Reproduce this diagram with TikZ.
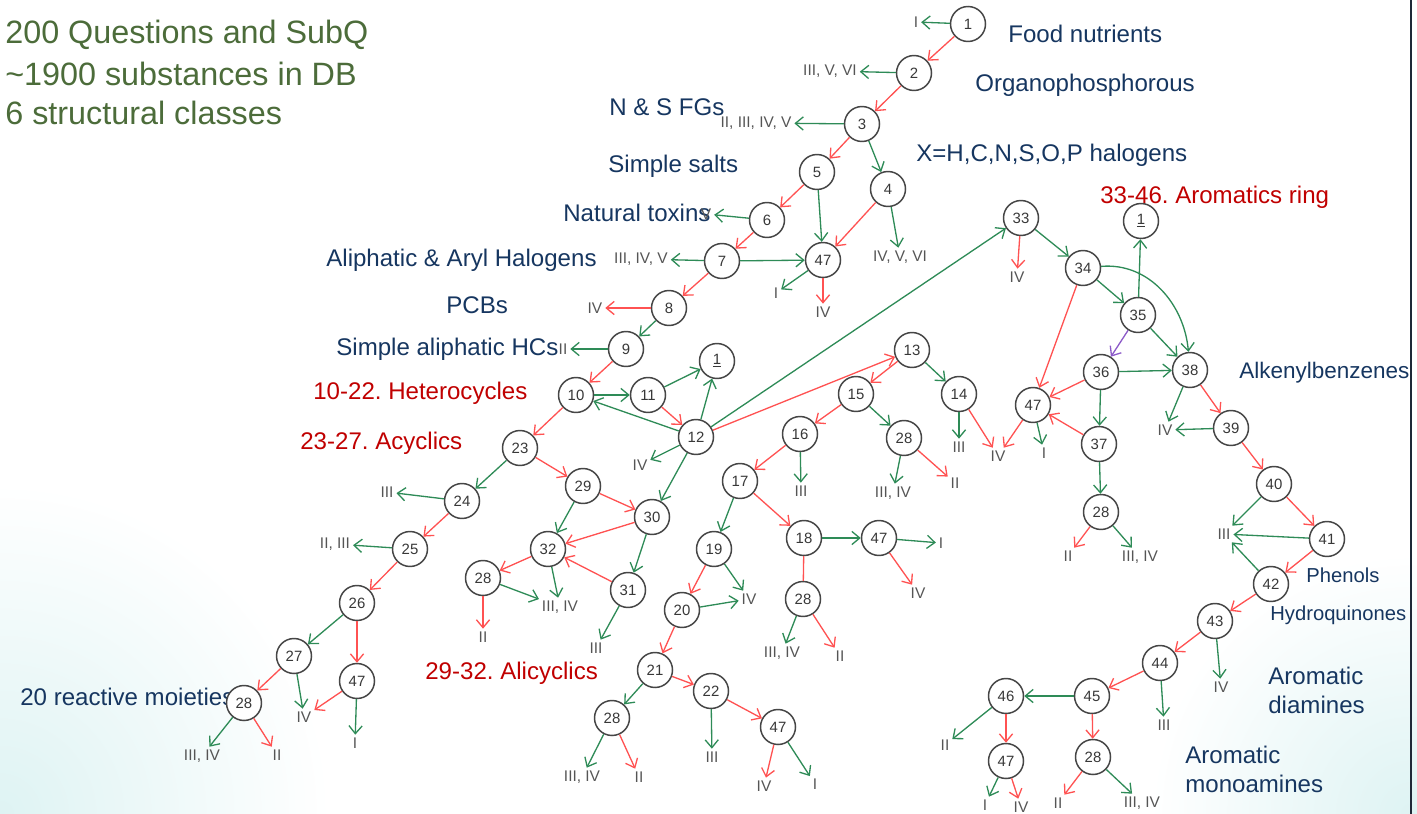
\documentclass[tikz,border=0pt]{standalone}
\usepackage{fontspec}
\setmainfont{Liberation Sans}
\frenchspacing
\definecolor{titlegreen}{RGB}{76,108,58}
\definecolor{groupblue}{RGB}{22,54,96}
\definecolor{rangered}{RGB}{192,0,0}
\definecolor{yesgreen}{RGB}{46,139,87}
\definecolor{nored}{RGB}{255,82,82}
\definecolor{altpurple}{RGB}{140,90,200}
\definecolor{ringgray}{RGB}{70,70,70}
\definecolor{classgray}{RGB}{85,85,85}
\definecolor{slideedge}{RGB}{30,40,55}
\definecolor{paletint}{RGB}{222,243,243}
\usetikzlibrary{arrows.meta, positioning}

\begin{document}
\begin{tikzpicture}[x=0.02cm, y=-0.02cm,
    qn/.style={circle, draw=ringgray, line width=0.85pt, fill=white, minimum size=0.7cm,
      inner sep=0pt, font=\fontsize{8.5}{9}\selectfont, text=ringgray!80!black},
    cls/.style={font=\fontsize{8.8}{10}\selectfont, text=classgray, inner sep=1.5pt},
    grouplabel/.style={font=\fontsize{13.7}{16.5}\selectfont, text=groupblue, anchor=west,
      inner sep=0pt, align=left},
    smallgroup/.style={grouplabel, font=\fontsize{11.5}{14}\selectfont},
    rangelabel/.style={grouplabel, text=rangered},
    headline/.style={font=\fontsize{18.4}{22}\selectfont, text=titlegreen, anchor=west, inner sep=0pt},
    rline/.style={nored, line width=0.75pt},
    rarrow/.style={rline, -{Straight Barb[length=4.5pt,width=7.5pt]}},
    garrow/.style={yesgreen, line width=0.75pt, -{Straight Barb[length=4.5pt,width=7.5pt]}},
    parrow/.style={altpurple, line width=0.75pt, -{Straight Barb[length=4.5pt,width=7.5pt]}},
  ]
  \useasboundingbox (0,0) rectangle (1417,814);
  % slide background
  \shade[inner color=paletint, outer color=white] (0,814) circle (330);
  \shade[inner color=paletint, outer color=white] (1411,814) circle (260);
  \draw[slideedge, line width=1.4pt] (1411,0) -- (1411,814);

  % headline
  \node[headline] (head1) at (5,35) {200 Questions and SubQ};
  \node[headline] (head2) at (5,74) {\textasciitilde1900 substances in DB};
  \node[headline] (head3) at (5,113) {6 structural classes};

  % group labels
  \node[grouplabel] (gfood) at (1008,34) {Food nutrients};
  \node[grouplabel] (gorgp) at (975,85) {Organophosphorous};
  \node[grouplabel] (gnsfg) at (609,107) {N \& S FGs};
  \node[grouplabel] (gxhal) at (916,155) {X=H,C,N,S,O,P halogens};
  \node[grouplabel] (gsalt) at (608,166) {Simple salts};
  \node[grouplabel] (gtox) at (563,213) {Natural toxins};
  \node[grouplabel] (ghalo) at (326,260) {Aliphatic \& Aryl Halogens};
  \node[grouplabel] (gpcb) at (446,305) {PCBs};
  \node[grouplabel] (ghc) at (336,349) {Simple aliphatic HCs};
  \node[grouplabel, font=\fontsize{12.8}{15}\selectfont] (galkb) at (1239,373) {Alkenylbenzenes};
  \node[smallgroup] (gphen) at (1306,575) {Phenols};
  \node[smallgroup] (ghydq) at (1270,615) {Hydroquinones};
  \node[grouplabel] (gdiam) at (1268,690) {Aromatic\\diamines};
  \node[grouplabel] (gmono) at (1185,769) {Aromatic\\monoamines};
  \node[grouplabel] (gmoie) at (20,697) {20 reactive moieties};
  \node[rangelabel] (rhet) at (313,393) {10-22. Heterocycles};
  \node[rangelabel] (racy) at (300,443) {23-27. Acyclics};
  \node[rangelabel] (rali) at (425,673) {29-32. Alicyclics};
  \node[rangelabel] (raro) at (1100,197) {33-46. Aromatics ring};

  % question nodes
  \node[qn] (q1) at (968,24) {1};
  \node[qn] (q2) at (914,73) {2};
  \node[qn] (q3) at (862,124) {3};
  \node[qn] (q5) at (817,172) {5};
  \node[qn] (q4) at (888,189) {4};
  \node[qn] (q6) at (767,220) {6};
  \node[qn] (q7) at (722,261) {7};
  \node[qn] (q47a) at (823,260) {47};
  \node[qn] (q8) at (669,308) {8};
  \node[qn] (q9) at (626,349) {9};
  \node[qn] (q10) at (576,395) {10};
  \node[qn] (q11) at (648,395) {11};
  \node[qn] (q1b) at (717,361) {\underline{1}};
  \node[qn] (q12) at (696,437) {12};
  \node[qn] (q23) at (520,448) {23};
  \node[qn] (q24) at (462,501) {24};
  \node[qn] (q25) at (410,549) {25};
  \node[qn] (q26) at (357,603) {26};
  \node[qn] (q27) at (294,656) {27};
  \node[qn] (q47b) at (357,681) {47};
  \node[qn] (q28a) at (244,703) {28};
  \node[qn] (q29) at (583,486) {29};
  \node[qn] (q30) at (652,517) {30};
  \node[qn] (q32) at (548,549) {32};
  \node[qn] (q28b) at (483,578) {28};
  \node[qn] (q31) at (628,590) {31};
  \node[qn] (q13) at (912,350) {13};
  \node[qn] (q15) at (856,394) {15};
  \node[qn] (q14) at (959,394) {14};
  \node[qn] (q16) at (800,434) {16};
  \node[qn] (q28c) at (904,438) {28};
  \node[qn] (q17) at (740,481) {17};
  \node[qn] (q18) at (804,538) {18};
  \node[qn] (q47c) at (879,538) {47};
  \node[qn] (q19) at (714,549) {19};
  \node[qn] (q20) at (682,610) {20};
  \node[qn] (q28d) at (803,599) {28};
  \node[qn] (q21) at (655,670) {21};
  \node[qn] (q22) at (711,691) {22};
  \node[qn] (q28e) at (612,718) {28};
  \node[qn] (q47d) at (778,727) {47};
  \node[qn] (q33) at (1021,218) {33};
  \node[qn] (q34) at (1083,268) {34};
  \node[qn] (q35) at (1138,315) {35};
  \node[qn] (q1c) at (1141,221) {\underline{1}};
  \node[qn] (q36) at (1101,372) {36};
  \node[qn] (q38) at (1190,370) {38};
  \node[qn] (q47e) at (1033,405) {47};
  \node[qn] (q37) at (1099,444) {37};
  \node[qn] (q28f) at (1101,512) {28};
  \node[qn] (q39) at (1231,428) {39};
  \node[qn] (q40) at (1274,484) {40};
  \node[qn] (q41) at (1327,539) {41};
  \node[qn] (q42) at (1271,584) {42};
  \node[qn] (q43) at (1215,621) {43};
  \node[qn] (q44) at (1160,663) {44};
  \node[qn] (q45) at (1092,696) {45};
  \node[qn] (q46) at (1006,696) {46};
  \node[qn] (q47f) at (1006,761) {47};
  \node[qn] (q28g) at (1093,757) {28};

  % class outcomes
  \node[cls] (c1) at (916,22) {I};
  \node[cls] (c2) at (830,71) {III, V, VI};
  \node[cls] (c3) at (756,123) {II, III, IV, V};
  \node[cls] (c6) at (706,214) {V};
  \node[cls] (c7) at (641,259) {III, IV, V};
  \node[cls] (c4) at (900,257) {IV, V, VI};
  \node[cls] (c47aI) at (776,293) {I};
  \node[cls] (c47aIV) at (823,312) {IV};
  \node[cls] (c8) at (595,308) {IV};
  \node[cls] (c9) at (563,349) {II};
  \node[cls] (c12) at (640,465) {IV};
  \node[cls] (c24) at (387,492) {III};
  \node[cls] (c25) at (335,544) {II, III};
  \node[cls] (c27) at (304,717) {IV};
  \node[cls] (c47b) at (355,743) {I};
  \node[cls] (c28aG) at (202,756) {III, IV};
  \node[cls] (c28aR) at (277,755) {II};
  \node[cls] (c32) at (560,607) {III, IV};
  \node[cls] (c28b) at (483,637) {II};
  \node[cls] (c31) at (596,648) {III};
  \node[cls] (c16) at (801,491) {III};
  \node[cls] (c28cG) at (893,493) {III, IV};
  \node[cls] (c28cR) at (955,483) {II};
  \node[cls] (c14G) at (959,447) {III};
  \node[cls] (c14R) at (998,456) {IV};
  \node[cls] (c47e) at (1044,453) {I};
  \node[cls] (c19) at (749,599) {IV};
  \node[cls] (c47cG) at (941,543) {I};
  \node[cls] (c47cR) at (918,593) {IV};
  \node[cls] (c28dG) at (782,653) {III, IV};
  \node[cls] (c28dR) at (840,656) {II};
  \node[cls] (c28eG) at (582,777) {III, IV};
  \node[cls] (c28eR) at (639,777) {II};
  \node[cls] (c22) at (712,757) {III};
  \node[cls] (c47dR) at (764,786) {IV};
  \node[cls] (c47dG) at (815,784) {I};
  \node[cls] (c33) at (1017,277) {IV};
  \node[cls] (c38) at (1165,430) {IV};
  \node[cls] (c40) at (1224,534) {III};
  \node[cls] (c43) at (1221,687) {IV};
  \node[cls] (c44) at (1164,725) {III};
  \node[cls] (c46) at (945,745) {II};
  \node[cls] (c47fG) at (985,805) {I};
  \node[cls] (c47fR) at (1021,807) {IV};
  \node[cls] (c28gR) at (1058,803) {II};
  \node[cls] (c28gG) at (1142,803) {III, IV};
  \node[cls] (c28fR) at (1068,556) {II};
  \node[cls] (c28fG) at (1140,557) {III, IV};

  % yes branches
  \draw[garrow] (q1) -- (c1);
  \draw[garrow] (q2) -- (c2);
  \draw[garrow] (q3) -- (c3);
  \draw[garrow] (q3) -- (q4);
  \draw[garrow] (q5) -- (q47a);
  \draw[garrow] (q4) -- (c4);
  \draw[garrow] (q6) -- (c6);
  \draw[garrow] (q7) -- (c7);
  \draw[garrow] (q7) -- (q47a);
  \draw[garrow] (q47a) -- (c47aI);
  \draw[garrow] (q8) -- (q9);
  \draw[garrow] (q9) -- (c9);
  \draw[garrow] (q10) -- (q11);
  \draw[garrow] (q11) -- (q1b);
  \draw[garrow] (q12) -- (q10);
  \draw[garrow] (q12) -- (q1b);
  \draw[garrow] (q12) -- (c12);
  \draw[garrow] (q12) -- (q30);
  \draw[garrow] (q12) -- (q33);
  \draw[garrow] (q13) -- (q14);
  \draw[garrow] (q15) -- (q28c);
  \draw[garrow] (q16) -- (c16);
  \draw[garrow] (q14) -- (c14G);
  \draw[garrow] (q28c) -- (c28cG);
  \draw[garrow] (q17) -- (q19);
  \draw[garrow] (q18) -- (q47c);
  \draw[garrow] (q47c) -- (c47cG);
  \draw[garrow] (q19) -- (c19);
  \draw[garrow] (q20) -- (c19);
  \draw[garrow] (q21) -- (q28e);
  \draw[garrow] (q22) -- (c22);
  \draw[garrow] (q47d) -- (c47dG);
  \draw[garrow] (q28d) -- (c28dG);
  \draw[garrow] (q28e) -- (c28eG);
  \draw[garrow] (q23) -- (q24);
  \draw[garrow] (q24) -- (c24);
  \draw[garrow] (q25) -- (c25);
  \draw[garrow] (q26) -- (q27);
  \draw[garrow] (q27) -- (c27);
  \draw[garrow] (q47b) -- (c47b);
  \draw[garrow] (q28a) -- (c28aG);
  \draw[garrow] (q29) -- (q32);
  \draw[garrow] (q30) -- (q31);
  \draw[garrow] (q31) -- (c31);
  \draw[garrow] (q32) -- (c32);
  \draw[garrow] (q28b) -- (c32);
  \draw[garrow] (q33) -- (q34);
  \draw[garrow] (q34) -- (q35);
  \draw[garrow] (q34) to[out=5, in=95] (q38);
  \draw[garrow] (q35) -- (q1c);
  \draw[garrow] (q35) -- (q38);
  \draw[garrow] (q36) -- (q38);
  \draw[garrow] (q36) -- (q37);
  \draw[garrow] (q37) -- (q28f);
  \draw[garrow] (q47e) -- (c47e);
  \draw[garrow] (q28f) -- (c28fG);
  \draw[garrow] (q38) -- (c38);
  \draw[garrow] (q39) -- (c38);
  \draw[garrow] (q40) -- (c40);
  \draw[garrow] (q41) -- (c40);
  \draw[garrow] (q42) -- (c40);
  \draw[garrow] (q43) -- (c43);
  \draw[garrow] (q44) -- (c44);
  \draw[garrow] (q45) -- (q46);
  \draw[garrow] (q46) -- (c46);
  \draw[garrow] (q47f) -- (c47fG);
  \draw[garrow] (q28g) -- (c28gG);

  % no branches
  \draw[rarrow] (q1) -- (q2);
  \draw[rarrow] (q2) -- (q3);
  \draw[rarrow] (q3) -- (q5);
  \draw[rarrow] (q5) -- (q6);
  \draw[rarrow] (q4) -- (q47a);
  \draw[rarrow] (q6) -- (q7);
  \draw[rarrow] (q7) -- (q8);
  \draw[rarrow] (q47a) -- (c47aIV);
  \draw[rarrow] (q8) -- (c8);
  \draw[rarrow] (q9) -- (q10);
  \draw[rarrow] (q10) -- (q23);
  \draw[rarrow] (q11) -- (q12);
  \draw[rarrow] (q12) -- (q13);
  \draw[rarrow] (q13) -- (q15);
  \draw[rarrow] (q15) -- (q16);
  \draw[rarrow] (q16) -- (q17);
  \draw[rarrow] (q14) -- (c14R);
  \draw[rarrow] (q28c) -- (c28cR);
  \draw[rarrow] (q17) -- (q18);
  \draw[rline] (q18) -- (q28d);
  \draw[rarrow] (q47c) -- (c47cR);
  \draw[rarrow] (q19) -- (q20);
  \draw[rarrow] (q20) -- (q21);
  \draw[rarrow] (q21) -- (q22);
  \draw[rarrow] (q22) -- (q47d);
  \draw[rarrow] (q47d) -- (c47dR);
  \draw[rarrow] (q28d) -- (c28dR);
  \draw[rarrow] (q28e) -- (c28eR);
  \draw[rarrow] (q23) -- (q29);
  \draw[rarrow] (q24) -- (q25);
  \draw[rarrow] (q25) -- (q26);
  \draw[rarrow] (q26) -- (q47b);
  \draw[rarrow] (q27) -- (q28a);
  \draw[rarrow] (q47b) -- (c27);
  \draw[rarrow] (q28a) -- (c28aR);
  \draw[rarrow] (q29) -- (q30);
  \draw[rarrow] (q30) -- (q32);
  \draw[rarrow] (q31) -- (q32);
  \draw[rarrow] (q32) -- (q28b);
  \draw[rarrow] (q28b) -- (c28b);
  \draw[rarrow] (q33) -- (c33);
  \draw[rarrow] (q34) -- (q47e);
  \draw[rarrow] (q36) -- (q47e);
  \draw[rarrow] (q37) -- (q47e);
  \draw[rarrow] (q47e) -- (c14R);
  \draw[rarrow] (q28f) -- (c28fR);
  \draw[rarrow] (q38) -- (q39);
  \draw[rarrow] (q39) -- (q40);
  \draw[rarrow] (q40) -- (q41);
  \draw[rarrow] (q41) -- (q42);
  \draw[rarrow] (q42) -- (q43);
  \draw[rarrow] (q43) -- (q44);
  \draw[rarrow] (q44) -- (q45);
  \draw[rarrow] (q45) -- (q28g);
  \draw[rarrow] (q46) -- (q47f);
  \draw[rarrow] (q47f) -- (c47fR);
  \draw[rarrow] (q28g) -- (c28gR);

  \draw[parrow] (q35) -- (q36);
\end{tikzpicture}
\end{document}
